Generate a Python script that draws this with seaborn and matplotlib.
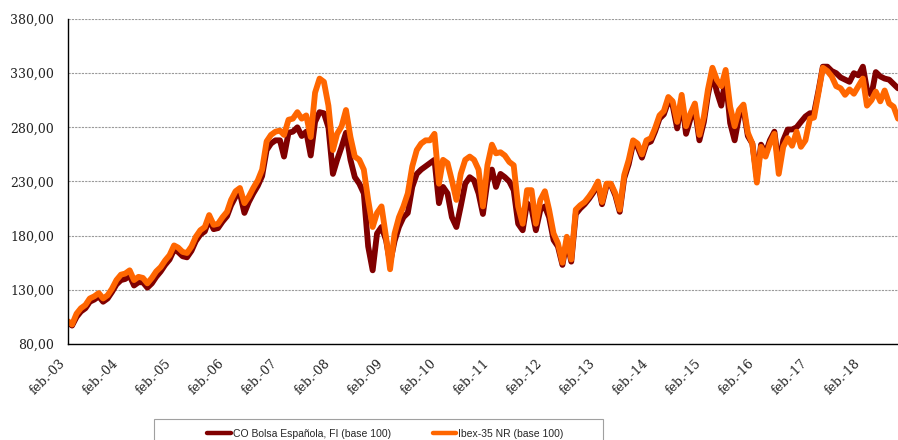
import numpy as np
import pandas as pd
import matplotlib
matplotlib.use('Agg')
import matplotlib.pyplot as plt
import matplotlib.dates as mdates
from matplotlib.ticker import FuncFormatter
from matplotlib.patches import Rectangle
import seaborn as sns

# Data: monthly readings (base 100), feb-2003 .. oct-2018
start = '2003-02-01'
fondo_label = 'CO Bolsa Española, FI (base 100)'
ibex_label = 'Ibex-35 NR (base 100)'
y_ticks = [80, 130, 180, 230, 280, 330, 380]

fondo = [100, 97, 105, 110, 113, 119, 121, 124, 119, 122, 128, 135,
         139, 140, 143, 134, 137, 137, 132, 136, 142, 147, 153, 158,
         167, 165, 161, 160, 166, 175, 181, 184, 195, 186, 187, 193,
         198, 208, 216, 219, 201, 211, 219, 226, 235, 259, 265, 268,
         268, 253, 275, 276, 280, 272, 276, 254, 285, 294, 293, 280,
         237, 250, 262, 275, 250, 234, 228, 219, 170, 148, 182, 188,
         176, 155, 175, 188, 197, 201, 225, 237, 241, 244, 247, 250,
         210, 225, 219, 197, 188, 207, 228, 234, 231, 219, 200, 230,
         241, 225, 237, 234, 230, 222, 191, 185, 210, 205, 185, 204,
         207, 197, 176, 170, 153, 175, 156, 200, 205, 209, 214, 220,
         228, 209, 226, 227, 217, 202, 233, 246, 265, 262, 252, 265,
         267, 276, 288, 292, 304, 300, 279, 305, 274, 288, 297, 268,
         285, 310, 330, 313, 300, 326, 284, 268, 290, 297, 272, 265,
         234, 264, 256, 268, 276, 245, 268, 278, 278, 280, 285, 290,
         293, 293, 314, 336, 336, 332, 330, 326, 324, 322, 330, 328,
         336, 315, 310, 331, 327, 325, 324, 320, 316]

ibex = [101, 98, 108, 113, 116, 122, 124, 127, 122, 125, 131, 139,
        144, 145, 148, 139, 142, 141, 136, 141, 147, 151, 157, 162,
        171, 169, 165, 164, 170, 179, 185, 188, 199, 190, 191, 197,
        202, 213, 221, 224, 210, 216, 224, 231, 241, 267, 273, 276,
        277, 273, 287, 288, 294, 288, 291, 271, 312, 325, 322, 300,
        259, 274, 281, 296, 271, 253, 250, 241, 213, 188, 201, 207,
        179, 149, 182, 197, 207, 219, 244, 259, 265, 268, 268, 274,
        228, 250, 247, 231, 213, 237, 250, 253, 250, 241, 207, 245,
        264, 256, 257, 254, 248, 245, 207, 191, 222, 222, 191, 213,
        221, 204, 182, 173, 155, 179, 158, 204, 208, 211, 216, 222,
        230, 211, 228, 228, 219, 204, 236, 250, 268, 265, 255, 268,
        270, 279, 291, 295, 308, 304, 285, 310, 281, 293, 302, 273,
        290, 315, 335, 324, 318, 333, 299, 281, 296, 301, 275, 265,
        229, 262, 253, 265, 274, 237, 262, 270, 263, 276, 262, 268,
        288, 289, 312, 335, 332, 327, 318, 316, 310, 315, 311, 318,
        325, 300, 305, 313, 304, 314, 302, 299, 288]

dates = pd.date_range(start, periods=len(ibex), freq='MS')
df = pd.DataFrame({'fecha': dates, 'fondo': fondo, 'ibex': ibex})

sns.set_theme(style='white')
plt.rcParams['font.family'] = ['DejaVu Serif']

fig = plt.figure(figsize=(8.98, 4.40), dpi=100)
ax = fig.add_axes([68 / 898, 1 - 344 / 440, 830 / 898, 325 / 440])

line_kw = dict(lw=4.2, solid_joinstyle='round', solid_capstyle='round')
sns.lineplot(data=df, x='fecha', y='fondo', color='#800000', label=fondo_label, ax=ax, **line_kw)
sns.lineplot(data=df, x='fecha', y='ibex', color='#FF6600', label=ibex_label, ax=ax, **line_kw)

handles, labels = ax.get_legend_handles_labels()
if ax.get_legend() is not None:
    ax.get_legend().remove()

# Axes
ax.set_ylim(80, 380)
ax.set_yticks(y_ticks)
ax.yaxis.set_major_formatter(FuncFormatter(lambda v, p: f'{v:.2f}'.replace('.', ',')))
ax.set_xlim(dates[0], dates[-1])
ax.xaxis.set_major_locator(mdates.YearLocator(month=2, day=1))
ax.xaxis.set_major_formatter(FuncFormatter(lambda v, p: 'feb.-' + mdates.num2date(v).strftime('%y')))
ax.set_xlabel('')
ax.set_ylabel('')

ax.grid(axis='y', color='#9a9a9a', linestyle=(0, (2, 1)), lw=0.8)
ax.grid(axis='x', visible=False)
ax.set_axisbelow(True)

for s in ['top', 'right']:
    ax.spines[s].set_visible(False)
for s in ['left', 'bottom']:
    ax.spines[s].set_color('black')
    ax.spines[s].set_linewidth(1.0)

ax.tick_params(axis='both', which='major', direction='out', length=4, width=0.8,
               color='#9a9a9a', labelsize=9, labelcolor='#222222')
ax.tick_params(axis='y', pad=6)
ax.tick_params(axis='x', pad=5)
for lbl in ax.get_xticklabels():
    lbl.set_rotation(45)
    lbl.set_ha('right')

# Legend box at the bottom
fig.add_artist(Rectangle((154 / 898, -0.1), 449 / 898, 0.1 + 1 - 419 / 440,
                         transform=fig.transFigure, fill=False,
                         edgecolor='#a0a0a0', lw=0.8))
leg_handles = [plt.Line2D([], [], color=h.get_color(), lw=3.2, solid_capstyle='round')
               for h in handles]
fig.legend(leg_handles, labels, loc='center left', bbox_to_anchor=(202 / 898, 1 - 434 / 440),
           ncol=2, frameon=False, borderpad=0, handlelength=2.3, handletextpad=0.15,
           columnspacing=4.0, prop={'family': 'Liberation Sans', 'size': 7.5})

plt.savefig('out.png', dpi=100)
